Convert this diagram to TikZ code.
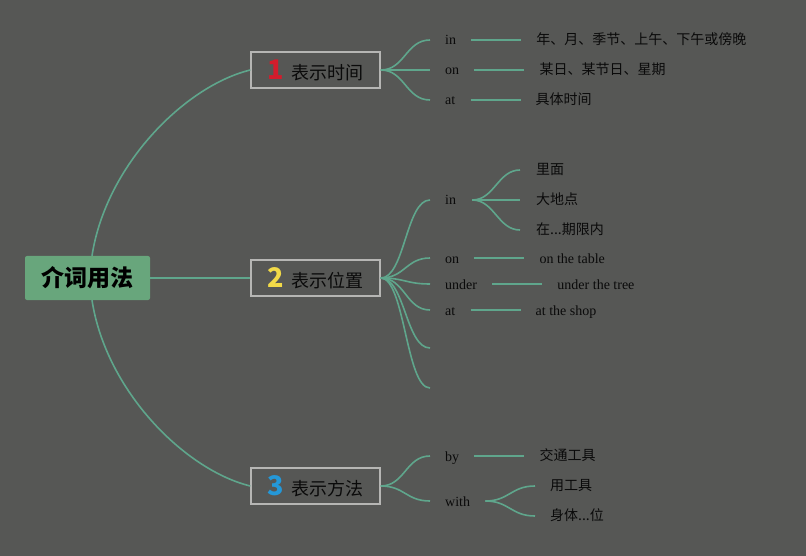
\documentclass[tikz,border=0pt]{standalone}
\usepackage{fontspec}
\setmainfont{Liberation Serif}
\newfontfamily\cjk{Noto Sans CJK SC}
\definecolor{bg}{RGB}{86,87,85}
\definecolor{ln}{RGB}{95,166,140}
\definecolor{rootg}{RGB}{104,166,124}
\definecolor{boxb}{RGB}{182,182,180}
\definecolor{txt}{RGB}{10,10,10}
\definecolor{nred}{RGB}{212,28,44}
\definecolor{nyel}{RGB}{242,218,72}
\definecolor{nblu}{RGB}{36,152,216}
\newcommand{\numb}[2]{{\color{#1}\bfseries\fontsize{27}{27}\selectfont #2}\hspace{7pt}}
\begin{document}
\begin{tikzpicture}[x=1pt,y=-1pt,
  rootbox/.style={fill=rootg, rounded corners=2pt, minimum width=125pt, minimum height=44pt, inner sep=0pt,
    font=\cjk\bfseries\fontsize{23}{27}\selectfont, text=black},
  topic/.style={draw=boxb, line width=1.5pt, minimum width=129pt, minimum height=36pt, inner sep=0pt,
    font=\cjk\fontsize{18}{22}\selectfont, text=txt},
  key/.style={anchor=west, inner sep=0pt, text height=10pt, text depth=0pt,
    font=\fontsize{14}{16}\selectfont, text=txt},
  leaf/.style={anchor=west, inner sep=0pt, text height=10pt, text depth=0.5pt,
    font=\cjk\fontsize{14}{17}\selectfont, text=txt},
  eleaf/.style={key},
  conn/.style={draw=ln, line width=1.6pt},
  bar/.style={conn, shorten <=15pt, shorten >=15pt},
  fan/.style={conn}
]
\fill[bg] (0,0) rectangle (806,556);

% root and topics
\node[rootbox] (root) at (87.5,278) {介词用法};
\node[topic] (t1) at (315.5,70) {\numb{nred}{1}表示时间};
\node[topic] (t2) at (315.5,278) {\numb{nyel}{2}表示位置};
\node[topic] (t3) at (315.5,486) {\numb{nblu}{3}表示方法};

\draw[conn] ([xshift=4.5pt]root.north) .. controls (106,165) and (185,86) .. (t1.west);
\draw[conn] (root.east) -- (t2.west);
\draw[conn] ([xshift=4.5pt]root.south) .. controls (106,391) and (185,470) .. (t3.west);

% ---- topic 1
\coordinate (e11) at (430,40);
\coordinate (e12) at (430,70);
\coordinate (e13) at (430,100);
\foreach \e in {e11,e12,e13}
  \draw[fan] (t1.east) .. controls +(24,0) and +(-24,0) .. (\e);
\node[key] (k11) at (445,40) {in};
\node[key] (k12) at (445,70) {on};
\node[key] (k13) at (445,100) {at};
\node[leaf] (l11) at ([xshift=80pt]k11.east) {年、月、季节、上午、下午或傍晚};
\node[leaf] (l12) at ([xshift=80pt]k12.east) {某日、某节日、星期};
\node[leaf] (l13) at ([xshift=80pt]k13.east) {具体时间};
\draw[bar] (k11) -- (l11);
\draw[bar] (k12) -- (l12);
\draw[bar] (k13) -- (l13);

% ---- topic 2
\coordinate (e21) at (430,200);
\coordinate (e22) at (430,258);
\coordinate (e23) at (430,284);
\coordinate (e24) at (430,310);
\coordinate (e25) at (430,348);
\coordinate (e26) at (430,388);
\foreach \e in {e21,e22,e23,e24,e25,e26}
  \draw[fan] (t2.east) .. controls +(24,0) and +(-24,0) .. (\e);
\node[key] (k21) at (445,200) {in};
\node[key] (k22) at (445,258) {on};
\node[key] (k23) at (445,284) {under};
\node[key] (k24) at (445,310) {at};
\coordinate (s21) at ([xshift=16pt]k21.east);
\node[leaf] (l211) at (536,170) {里面};
\node[leaf] (l212) at (536,200) {大地点};
\node[leaf] (l213) at (536,230) {在...期限内};
\foreach \l in {l211,l212,l213}
  \draw[fan] (s21) .. controls +(22,0) and +(-22,0) .. ([xshift=-16pt]\l.west);
\node[eleaf] (l22) at ([xshift=80pt]k22.east) {on the table};
\node[eleaf] (l23) at ([xshift=80pt]k23.east) {under the tree};
\node[eleaf] (l24) at ([xshift=80pt]k24.east) {at the shop};
\draw[bar] (k22) -- (l22);
\draw[bar] (k23) -- (l23);
\draw[bar] (k24) -- (l24);

% ---- topic 3
\coordinate (e31) at (430,456);
\coordinate (e32) at (430,501);
\foreach \e in {e31,e32}
  \draw[fan] (t3.east) .. controls +(24,0) and +(-24,0) .. (\e);
\node[key] (k31) at (445,456) {by};
\node[key] (k32) at (445,501) {with};
\node[leaf] (l31) at ([xshift=80pt]k31.east) {交通工具};
\draw[bar] (k31) -- (l31);
\coordinate (s32) at ([xshift=15pt]k32.east);
\node[leaf] (l321) at (550,486) {用工具};
\node[leaf] (l322) at (550,516) {身体...位};
\foreach \l in {l321,l322}
  \draw[fan] (s32) .. controls +(24,0) and +(-24,0) .. ([xshift=-15pt]\l.west);
\end{tikzpicture}
\end{document}
